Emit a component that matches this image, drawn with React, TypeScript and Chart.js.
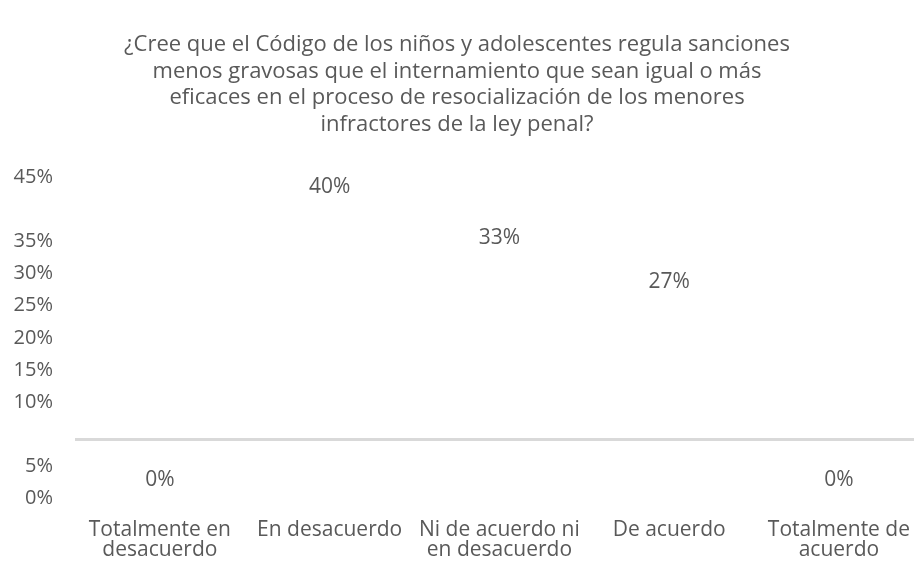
import React, { useEffect, useRef } from "react";
import { Chart, registerables } from "chart.js";

Chart.register(...registerables);

const TITLE_LINES = [
  "¿Cree que el Código de los niños y adolescentes regula sanciones",
  "menos gravosas que el internamiento que sean igual o más",
  "eficaces en el proceso de resocialización de los menores",
  "infractores de la ley penal?",
];

const CATEGORIES: (string | string[])[] = [
  ["Totalmente en", "desacuerdo"],
  "En desacuerdo",
  ["Ni de acuerdo ni", "en desacuerdo"],
  "De acuerdo",
  ["Totalmente de", "acuerdo"],
];

const VALUES = [0, 40, 33, 27, 0];

const Y_TICK_LABELS = ["45%", "", "35%", "30%", "25%", "20%", "15%", "10%", "", "5%", "0%"];

const VALUE_MIN = -2.45;
const VALUE_MAX = 41.22;
const AXIS_LINE_VALUE = 5.57;

const TEXT_COLOR = "#595959";
const LINE_COLOR = "#d9d9d9";
const FONT_FAMILY = "'Open Sans', sans-serif";

const dataLabelPlugin = {
  id: "dataLabels",
  afterDatasetsDraw(chart: any) {
    const ctx = chart.ctx;
    const meta = chart.getDatasetMeta(0);
    ctx.save();
    ctx.font = `21px ${FONT_FAMILY}`;
    ctx.fillStyle = TEXT_COLOR;
    ctx.textAlign = "center";
    ctx.textBaseline = "middle";
    meta.data.forEach((el: any, i: number) => {
      ctx.fillText(`${VALUES[i]}%`, el.x, el.y);
    });
    ctx.restore();
  },
};

export default function App() {
  const canvasRef = useRef<HTMLCanvasElement | null>(null);

  useEffect(() => {
    const canvas = canvasRef.current;
    if (!canvas) return;
    const chart = new Chart(canvas, {
      type: "bar",
      data: {
        labels: CATEGORIES,
        datasets: [
          {
            data: VALUES,
            backgroundColor: "rgba(0,0,0,0)",
            borderWidth: 0,
            yAxisID: "yv",
            xAxisID: "x",
          },
        ],
      },
      options: {
        responsive: false,
        animation: false,
        layout: { padding: 0 },
        plugins: {
          legend: { display: false },
          tooltip: { enabled: false },
          title: {
            display: true,
            text: TITLE_LINES,
            color: TEXT_COLOR,
            font: { family: FONT_FAMILY, size: 22, weight: "normal", lineHeight: 1.2 },
            padding: { top: 32, bottom: 40 },
          },
        },
        scales: {
          x: {
            type: "category",
            position: "bottom",
            offset: true,
            grid: { display: false, drawTicks: false },
            border: { display: false },
            ticks: {
              color: TEXT_COLOR,
              font: { family: FONT_FAMILY, size: 21, lineHeight: 0.95 },
              padding: 22,
              maxRotation: 0,
              minRotation: 0,
              autoSkip: false,
            },
            afterFit(scale: any) {
              scale.height = 70;
            },
          },
          y: {
            type: "category",
            position: "left",
            labels: Y_TICK_LABELS,
            offset: false,
            grid: { display: false, drawTicks: false },
            border: { display: false },
            ticks: {
              color: TEXT_COLOR,
              font: { family: FONT_FAMILY, size: 20 },
              padding: 22,
              autoSkip: false,
            },
            afterFit(scale: any) {
              scale.width = 93;
            },
          },
          yv: {
            type: "linear",
            position: "left",
            min: VALUE_MIN,
            max: VALUE_MAX,
            grid: {
              display: true,
              drawOnChartArea: true,
              drawTicks: false,
              color: LINE_COLOR,
              lineWidth: 3,
            },
            border: { display: false },
            ticks: { display: false },
            afterBuildTicks(scale: any) {
              scale.ticks = [{ value: AXIS_LINE_VALUE }];
            },
            afterFit(scale: any) {
              scale.width = 0;
            },
          },
        },
      } as any,
      plugins: [dataLabelPlugin],
    });
    return () => chart.destroy();
  }, []);

  return (
    <div style={{ position: "absolute", left: 0, top: 0, width: 914, height: 568, overflow: "hidden", background: "#fff" }}>
      <canvas
        ref={canvasRef}
        width={950}
        height={568}
        style={{ position: "absolute", left: -18, top: 0 }}
      />
    </div>
  );
}
